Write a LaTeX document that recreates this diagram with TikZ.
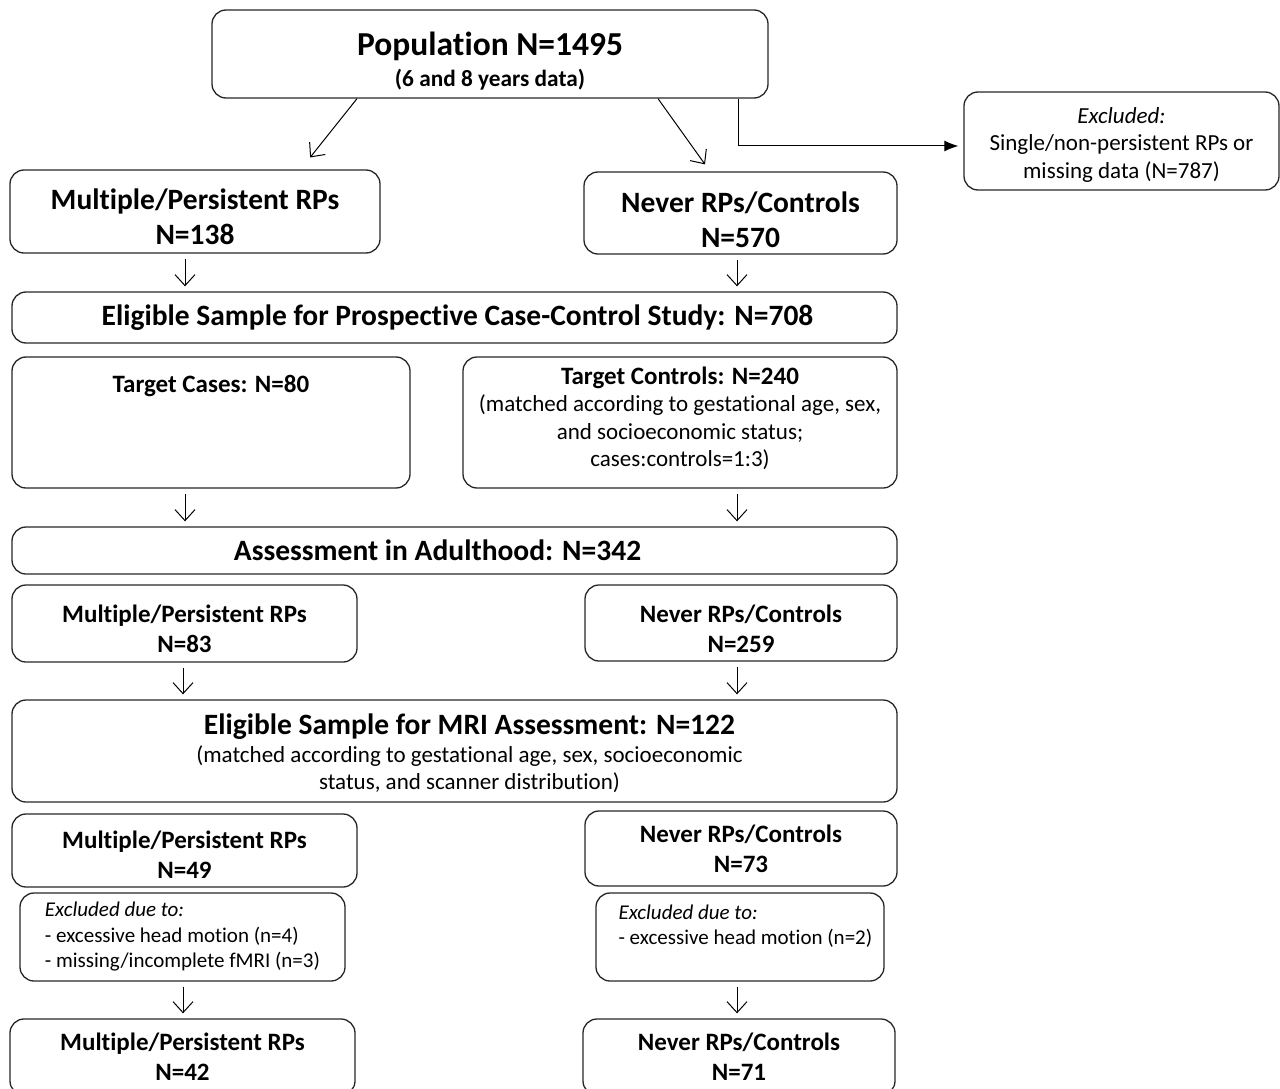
\documentclass[tikz,border=0pt]{standalone}
\usepackage{fontspec}
\setmainfont{Carlito}[Ligatures=NoCommon]
\usetikzlibrary{arrows,arrows.meta,positioning}
\newcommand\popfont{\fontsize{33.5}{34}\selectfont\bfseries}
\newcommand\hdfont{\fontsize{29.5}{35}\selectfont\bfseries}
\newcommand\mdfont{\fontsize{25}{30}\selectfont\bfseries}
\newcommand\rgfont{\fontsize{23}{27.5}\selectfont}
\newcommand\smfont{\fontsize{21}{25.5}\selectfont}
\newcommand\topgap[1]{\rule{0pt}{#1}}
\tikzset{
  box/.style   = {rectangle, rounded corners=14pt, draw=black!85, line width=1.3pt,
                  align=center, inner sep=0pt, minimum width=#1},
  txt/.style   = {align=center, inner sep=0pt},
  down/.style  = {-{Straight Barb[length=11pt,width=20pt]}, line width=1pt,
                  shorten <=5pt, shorten >=5pt},
  side/.style  = {-{Latex[length=14pt,width=11pt]}, line width=1pt},
}
\begin{document}
\begin{tikzpicture}[x=1pt, y=-1pt]
  \useasboundingbox (0,0) rectangle (1280,1089);

  % top of the flow
  \node[box=556pt, minimum height=88pt, font=\popfont] (pop) at (490,54)
       {\topgap{37pt}Population N=1495\\[-3pt]{\fontsize{23.3}{25}\selectfont (6 and 8 years data)}};
  \node[box=315pt, minimum height=98pt, font=\rgfont] (excl) at (1121.5,141)
       {\topgap{23pt}\textit{Excluded:}\\ Single/non-persistent RPs or\\ missing data (N=787)};
  \node[box=370pt, minimum height=83pt, font=\hdfont] (mult1) at (195,211.5)
       {\topgap{32pt}Multiple/Persistent RPs\\ N=138};
  \node[box=313pt, minimum height=82pt, font=\hdfont] (never1) at (740.5,213)
       {\topgap{34pt}Never RPs/Controls\\ N=570};

  \draw[down, shorten <=0pt] ([xshift=-133pt]pop.south) -- ([xshift=112pt,yshift=8pt]mult1.north);
  \draw[down, shorten <=0pt, shorten >=0pt] ([xshift=168pt]pop.south) -- ([xshift=-35.5pt,yshift=7pt]never1.north);
  \draw[side] ([xshift=248pt]pop.south) |- ([xshift=-5pt,yshift=-5pt]excl.west);

  % case-control study
  \node[box=885pt, minimum height=51pt, font=\hdfont] (elig) at (454.5,317.5)
       {\hspace*{6pt}Eligible Sample for Prospective Case-Control Study: N=708};
  \node[box=398pt, minimum height=131pt] (cases) at (211,422.5) {};
  \node[txt, font=\mdfont, below=19pt of cases.north] (casestxt) {Target Cases: N=80};
  \node[box=434pt, minimum height=131pt, font=\rgfont] (ctrls) at (680,422.5)
       {{\mdfont Target Controls: N=240}\\ (matched according to gestational age, sex,\\
        and socioeconomic status;\\ cases:controls=1:3)\rule[-12pt]{0pt}{12pt}};

  % adulthood
  \node[box=885pt, minimum height=47pt, font=\hdfont] (adult) at (454.5,550.5)
       {\hspace*{-34pt}Assessment in Adulthood: N=342};
  \node[box=345pt, minimum height=77pt, font=\mdfont] (mult2) at (184.5,623.5)
       {\topgap{28pt}Multiple/Persistent RPs\\ N=83};
  \node[box=312pt, minimum height=76pt, font=\mdfont] (never2) at (741,623)
       {\topgap{30pt}Never RPs/Controls\\ N=259};

  % MRI
  \node[box=885pt, minimum height=102pt, font=\rgfont] (mri) at (454.5,751)
       {\topgap{26pt}\hspace*{30pt}{\hdfont Eligible Sample for MRI Assessment: N=122}\\
        \hspace*{30pt}(matched according to gestational age, sex, socioeconomic\\
        \hspace*{30pt}status, and scanner distribution)};
  \node[box=345pt, minimum height=73pt, font=\mdfont] (mult3) at (184.5,850.5)
       {\topgap{25pt}Multiple/Persistent RPs\\ N=49};
  \node[box=312pt, minimum height=75pt, font=\mdfont] (never3) at (741,848.5)
       {Never RPs/Controls\\ N=73};
  \node[box=325pt, minimum height=88pt, font=\smfont, align=left] (exl) at (182.5,937)
       {\textit{Excluded due to:}\\ - excessive head motion (n=4)\\ - missing/incomplete fMRI (n=3)};
  \node[box=288pt, minimum height=88pt] (exr) at (740,937) {};
  \node[txt, font=\smfont, align=left, anchor=north west] (exrtxt) at ([xshift=23pt,yshift=-12pt]exr.north west)
       {\textit{Excluded due to:}\\ - excessive head motion (n=2)};
  \node[box=345pt, minimum height=76pt, font=\mdfont] (mult4) at (182.5,1057)
       {Multiple/Persistent RPs\\ N=42};
  \node[box=312pt, minimum height=76pt, font=\mdfont] (never4) at (739,1057)
       {Never RPs/Controls\\ N=71};

  \foreach \a/\b/\x in {mult1/elig/185, never1/elig/737, cases/adult/185, ctrls/adult/737,
                        mult2/mri/183, never2/mri/737, exl/mult4/183, exr/never4/737}
    \draw[down] (\a.south -| \x,0) -- (\b.north -| \x,0);
\end{tikzpicture}
\end{document}
